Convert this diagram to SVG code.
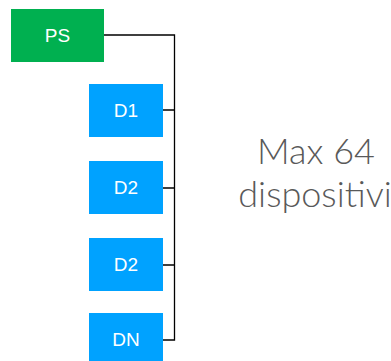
<svg xmlns="http://www.w3.org/2000/svg" width="391" height="361" viewBox="0 0 391 361">
<style>
.ps{fill:#00B050}
.d{fill:#00A2FF}
.lbl{font-family:"Liberation Sans",Arial,sans-serif;font-size:19px;fill:#fff;text-anchor:middle}
.conn{fill:none;stroke:#000;stroke-width:1.3}
.note{font-family:Lato,"Liberation Sans",sans-serif;font-size:36px;fill:#595959;text-anchor:middle;font-weight:300}
</style>
<rect width="391" height="361" fill="#fff"/>
<g id="connectors">
<path class="conn" d="M104 35H174.5V340H163M163 110H174.5M163 188H174.5M163 265H174.5"/>
</g>
<g id="PS"><rect class="ps" x="11" y="9" width="93" height="53"/><text class="lbl" x="57.5" y="42">PS</text></g>
<g id="D1"><rect class="d" x="89" y="84" width="74" height="53"/><text class="lbl" x="126" y="117">D1</text></g>
<g id="D2a"><rect class="d" x="89" y="161" width="74" height="53"/><text class="lbl" x="126" y="194">D2</text></g>
<g id="D2b"><rect class="d" x="89" y="238" width="74" height="53"/><text class="lbl" x="126" y="271">D2</text></g>
<g id="DN"><rect class="d" x="89" y="313" width="74" height="53"/><text class="lbl" x="126" y="346">DN</text></g>
<g id="note"><text class="note" x="316" y="164.3">Max 64</text><text class="note" x="315" y="206.7">dispositivi</text></g>
</svg>
